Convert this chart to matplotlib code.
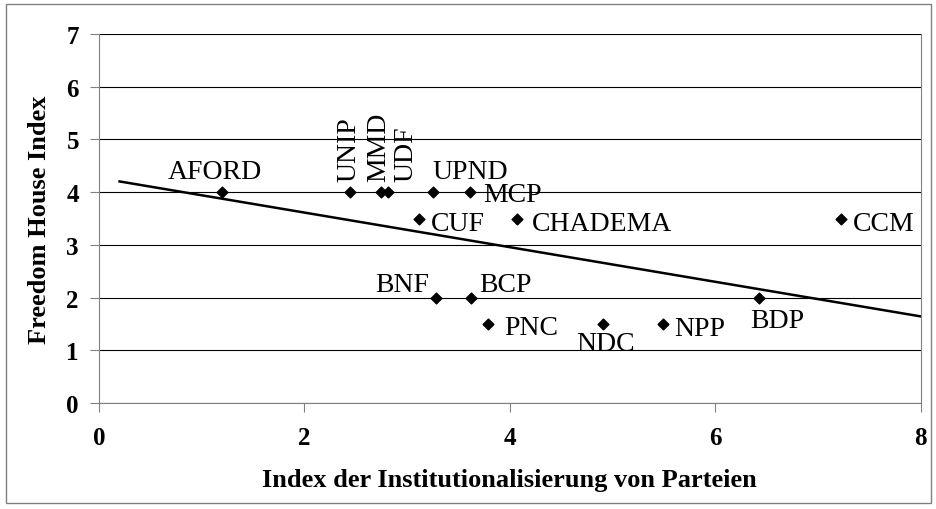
import numpy as np
import matplotlib.pyplot as plt
from matplotlib.patches import Rectangle

plt.rcParams['font.family'] = ['Liberation Serif', 'DejaVu Serif']

parties = ["AFORD", "UNIP", "MMD", "UDF", "UPND", "MCP", "CUF", "CHADEMA", "CCM",
           "BNF", "BCP", "PNC", "NDC", "NPP", "BDP"]
inst_index = [1.2, 2.44, 2.75, 2.81, 3.25, 3.61, 3.12, 4.07, 7.23,
              3.28, 3.62, 3.79, 4.91, 5.49, 6.43]
fh_index = [4, 4, 4, 4, 4, 4, 3.5, 3.5, 3.5,
            2, 2, 1.5, 1.5, 1.5, 2]

# label placement: (dx, dy in points, ha, rotation); anchored on the baseline
place = {
    "AFORD": (-5, 10, "center", 0),
    "UNIP": (4.5, 8, "left", 90),
    "MMD": (3, 8, "left", 90),
    "UDF": (18, 8, "left", 90),
    "UPND": (0, 10, "left", 0),
    "MCP": (10, -6.5, "left", 0),
    "CUF": (8.5, -8.5, "left", 0),
    "CHADEMA": (10.5, -8.5, "left", 0),
    "CCM": (8, -8.5, "left", 0),
    "BNF": (-5, 5, "right", 0),
    "BCP": (6, 5, "left", 0),
    "PNC": (11.5, -7.5, "left", 0),
    "NDC": (1.5, -19, "center", 0),
    "NPP": (8, -8, "left", 0),
    "BDP": (-6.5, -21, "left", 0),
}

fig = plt.figure(figsize=(9.37, 5.10), dpi=100)
ax = fig.add_axes([0.1057, 0.2078, 0.8767, 0.7236])

ax.scatter(inst_index, fh_index, marker="D", s=30, color="black", zorder=3)

for name, x, y in zip(parties, inst_index, fh_index):
    dx, dy, ha, rot = place[name]
    ax.annotate(name, (x, y), xytext=(dx, dy), textcoords="offset points",
                ha=ha, va="baseline", rotation=rot, rotation_mode="anchor",
                fontsize=20)

# linear trend line
slope, intercept = np.polyfit(inst_index, fh_index, 1)
xs = np.array([min(inst_index) - 1, 8])
ax.plot(xs, slope * xs + intercept, color="black", lw=1.8, zorder=2)

ax.set_xlim(0, 8)
ax.set_ylim(0, 7)
ax.set_xticks([0, 2, 4, 6, 8])
ax.set_yticks(range(8))
ax.yaxis.grid(True, color="black", lw=0.8)
ax.set_axisbelow(True)
for side in ["left", "bottom", "right"]:
    ax.spines[side].set_color("gray")
ax.spines["top"].set_visible(False)
ax.tick_params(direction="out", length=6.5, color="gray", labelsize=18)
ax.tick_params(axis="x", pad=10)
ax.tick_params(axis="y", pad=8)
for lab in ax.get_xticklabels() + ax.get_yticklabels():
    lab.set_fontweight("bold")

ax.set_xlabel("Index der Institutionalisierung von Parteien", fontsize=19,
              fontweight="bold", labelpad=14)
ax.set_ylabel("Freedom House Index", fontsize=19, fontweight="bold", labelpad=11)

fig.patches.append(Rectangle((0.006, 0.012), 0.988, 0.978, transform=fig.transFigure,
                             fill=False, edgecolor="gray", lw=1))

fig.savefig("out.png", dpi=100)
